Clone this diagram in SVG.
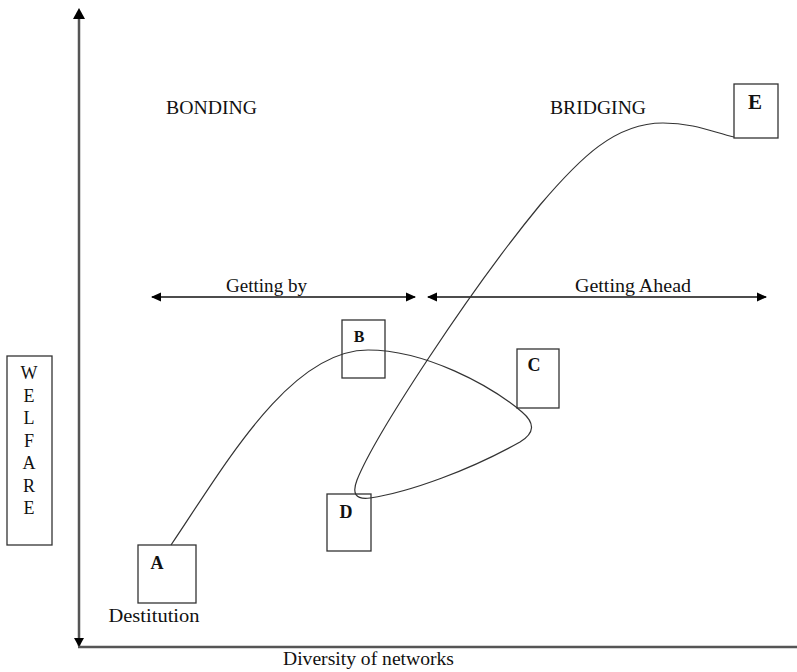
<svg xmlns="http://www.w3.org/2000/svg" width="797" height="672" viewBox="0 0 797 672">
<style>
.t{font-family:'Times New Roman','Liberation Serif',Tinos,'DejaVu Serif',serif;fill:#111}
.lbl{font-size:18px}
.let{font-size:18px;font-weight:bold}
.box{fill:none;stroke:#333;stroke-width:1.3}
.axis{stroke:#555;stroke-width:2.5;fill:none}
.arr{stroke:#111;stroke-width:1.6;fill:none}
.curve{stroke:#333;stroke-width:1.2;fill:none}
</style>
<defs>
<marker id="ah" markerWidth="10" markerHeight="10" refX="9" refY="5" orient="auto-start-reverse" markerUnits="userSpaceOnUse">
<path d="M0,0.5 L10,5 L0,9.5 Z" fill="#000"/>
</marker>
</defs>
<g id="connectors">
<line class="axis" x1="79" y1="646" x2="79" y2="18"/>
<path d="M73,19 L79,8 L85,19 Z" fill="#000"/>
<path d="M74,638 L79,647 L84,638 Z" fill="#000"/>
<line class="axis" x1="78" y1="647" x2="797" y2="647"/>
<line class="arr" x1="152" y1="297" x2="415" y2="297" marker-start="url(#ah)" marker-end="url(#ah)"/>
<line class="arr" x1="428" y1="297" x2="766" y2="297" marker-start="url(#ah)" marker-end="url(#ah)"/>
<path class="curve" d="M171,545 C225,465 290,350 368,350 C425,350 490,385 522,412 C535,423 535,433 520,442 C470,470 410,492 370,498 C355,500 352,493 357,480 C375,435 470,290 540,205 C580,158 615,123 663,123 C695,123 715,133 734,137"/>
</g>
<g id="welfare">
<rect class="box" x="7" y="356" width="45" height="189"/>
<text class="t lbl" text-anchor="middle"><tspan x="29" y="379">W</tspan><tspan x="29" y="401.5">E</tspan><tspan x="29" y="424">L</tspan><tspan x="29" y="446.5">F</tspan><tspan x="29" y="469">A</tspan><tspan x="29" y="491.5">R</tspan><tspan x="29" y="514">E</tspan></text>
</g>
<g id="nodeA">
<rect class="box" x="138" y="545" width="58" height="58"/>
<text class="t let" x="157" y="569" text-anchor="middle">A</text>
<text class="t lbl" x="154" y="621.5" text-anchor="middle" textLength="91" lengthAdjust="spacingAndGlyphs">Destitution</text>
</g>
<g id="nodeB">
<rect class="box" x="342" y="320" width="43" height="58"/>
<text class="t let" x="359" y="342" text-anchor="middle" style="font-size:16px">B</text>
</g>
<g id="nodeC">
<rect class="box" x="517" y="349" width="42" height="59"/>
<text class="t let" x="534" y="371" text-anchor="middle">C</text>
</g>
<g id="nodeD">
<rect class="box" x="327" y="494" width="44" height="57"/>
<text class="t let" x="346" y="518" text-anchor="middle">D</text>
</g>
<g id="nodeE">
<rect class="box" x="734" y="84" width="44" height="54"/>
<text class="t let" x="755" y="109" text-anchor="middle" style="font-size:21px">E</text>
</g>
<g id="labels">
<text class="t lbl" x="166" y="114" textLength="91" lengthAdjust="spacingAndGlyphs">BONDING</text>
<text class="t lbl" x="550" y="114" textLength="96" lengthAdjust="spacingAndGlyphs">BRIDGING</text>
<text class="t lbl" x="226" y="292" textLength="81" lengthAdjust="spacingAndGlyphs">Getting by</text>
<text class="t lbl" x="575" y="292" textLength="116" lengthAdjust="spacingAndGlyphs">Getting Ahead</text>
<text class="t lbl" x="283" y="665" textLength="171" lengthAdjust="spacingAndGlyphs">Diversity of networks</text>
</g>
</svg>
